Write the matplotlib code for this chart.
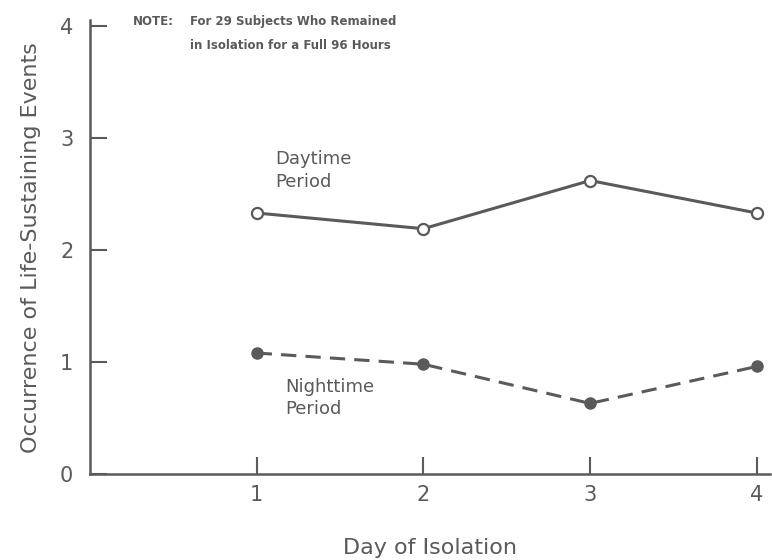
import matplotlib.pyplot as plt

days = [1, 2, 3, 4]
daytime = [2.33, 2.19, 2.62, 2.33]
nighttime = [1.08, 0.98, 0.63, 0.96]

grey = "#5a5a5a"
plt.rcParams["font.family"] = ["DejaVu Sans"]

fig = plt.figure(figsize=(7.72, 5.6), dpi=100)
ax = fig.add_axes([0.1166, 0.1536, 0.881, 0.810])

# day / night lines
ax.plot(days, daytime, color=grey, lw=2.2, marker="o", ms=8,
        mfc="white", mec=grey, mew=1.6)
ax.plot(days, nighttime, color=grey, lw=2.2, ls=(0, (5, 3)), marker="o",
        ms=8, mfc=grey, mec=grey)

ax.set_xlim(0, 4.08)
ax.set_ylim(0, 4.05)
ax.set_xticks(days)
ax.set_yticks([0, 1, 2, 3, 4])

for s in ["top", "right"]:
    ax.spines[s].set_visible(False)
for s in ["left", "bottom"]:
    ax.spines[s].set_color(grey)
    ax.spines[s].set_linewidth(1.8)

ax.tick_params(axis="both", direction="in", length=12, width=1.5,
               colors=grey, labelsize=15, pad=8)
ax.tick_params(axis="y", pad=12)

ax.set_xlabel("Day of Isolation", fontsize=16, color=grey, labelpad=24)
ax.set_ylabel("Occurrence of Life-Sustaining Events", fontsize=16,
              color=grey, labelpad=14)

ax.text(1.11, 2.71, "Daytime\nPeriod", fontsize=13, color=grey,
        ha="left", va="center", linespacing=1.3)
ax.text(1.17, 0.68, "Nighttime\nPeriod", fontsize=13, color=grey,
        ha="left", va="center", linespacing=1.3)

fig.text(0.172, 0.962, "NOTE:", fontsize=8.5, fontweight="bold", color=grey,
         ha="left", va="center")
fig.text(0.246, 0.962, "For 29 Subjects Who Remained", fontsize=8.5,
         fontweight="bold", color=grey, ha="left", va="center")
fig.text(0.246, 0.919, "in Isolation for a Full 96 Hours", fontsize=8.5,
         fontweight="bold", color=grey, ha="left", va="center")

fig.savefig("out.png", dpi=100)
